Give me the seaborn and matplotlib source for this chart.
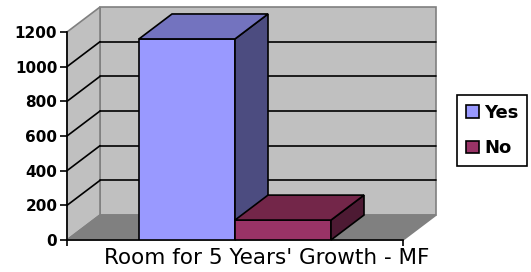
import pandas as pd
import matplotlib.pyplot as plt
import seaborn as sns
from matplotlib.patches import Polygon, Patch

# Chart data
categories = ["Room for 5 Years' Growth - MF"]
series = ["Yes", "No"]
values = [1160, 115]
yticks = [0, 200, 400, 600, 800, 1000, 1200]

front_colors = ["#9999FF", "#993366"]
top_colors = ["#7373BF", "#732649"]
side_colors = ["#4C4C80", "#4D1A33"]

df = pd.DataFrame({"category": categories * len(series), "series": series, "value": values})

sns.set_style("white")
plt.rcParams["font.family"] = ["DejaVu Sans"]
plt.rcParams["text.color"] = "black"
plt.rcParams["xtick.color"] = "black"
plt.rcParams["ytick.color"] = "black"

fig = plt.figure(figsize=(5.31, 2.72), dpi=100)
ax = fig.add_axes([67 / 531, 32 / 272, 336 / 531, 208 / 272])
ax.patch.set_visible(False)

sns.barplot(data=df, x="category", y="value", hue="series", palette=front_colors,
            saturation=1, edgecolor="black", linewidth=1.2, legend=False, ax=ax)

x0, x1 = -0.7, 0.7
ytop = yticks[-1]
dx, dy = 0.1375, 144  # 3D depth offset in data units
ax.set_xlim(x0, x1)
ax.set_ylim(0, ytop)

# walls and floor
wall_kw = dict(clip_on=False, zorder=0.1, lw=1.2)
ax.add_patch(Polygon([(x0 + dx, dy), (x1 + dx, dy), (x1 + dx, ytop + dy), (x0 + dx, ytop + dy)],
                     fc="#C0C0C0", ec="#808080", **wall_kw))
ax.add_patch(Polygon([(x0, 0), (x0 + dx, dy), (x0 + dx, ytop + dy), (x0, ytop)],
                     fc="#C0C0C0", ec="#808080", **wall_kw))
ax.add_patch(Polygon([(x0, 0), (x1, 0), (x1 + dx, dy), (x0 + dx, dy)],
                     fc="#808080", ec="#808080", **wall_kw))

# gridlines on the side and back walls
for t in yticks[1:-1]:
    ax.plot([x0, x0 + dx], [t, t + dy], color="black", lw=1.2, clip_on=False, zorder=0.3)
    ax.plot([x0 + dx, x1 + dx], [t + dy, t + dy], color="black", lw=1.2, clip_on=False, zorder=0.3)

# 3D sides and tops of the bars
for i, cont in enumerate(ax.containers):
    for bar in cont:
        x, w, h = bar.get_x(), bar.get_width(), bar.get_height()
        xr = x + w
        z = 3 + i
        bar.set_zorder(z)
        ax.add_patch(Polygon([(xr, 0), (xr + dx, dy), (xr + dx, h + dy), (xr, h)],
                             fc=side_colors[i], ec="black", lw=1.2, clip_on=False, zorder=z + 0.1))
        ax.add_patch(Polygon([(x, h), (xr, h), (xr + dx, h + dy), (x + dx, h + dy)],
                             fc=top_colors[i], ec="black", lw=1.2, clip_on=False, zorder=z + 0.1))

# axes styling
for s in ["top", "right"]:
    ax.spines[s].set_visible(False)
for s in ["left", "bottom"]:
    ax.spines[s].set_color("black")
    ax.spines[s].set_linewidth(1.2)
    ax.spines[s].set_zorder(2.5)

ax.set_yticks(yticks)
ax.set_yticklabels([str(t) for t in yticks], fontweight="bold", fontsize=11)
ax.tick_params(axis="y", direction="out", length=5, width=1.2, color="black", pad=2, left=True)
ax.set_xticks([dx * 0.95])
ax.set_xticklabels(categories, fontsize=15.5)
ax.set_xticks([x0, x1], minor=True)
ax.tick_params(axis="x", which="major", length=0, pad=6)
ax.tick_params(axis="x", which="minor", direction="out", length=4, width=1.2, color="black", bottom=True)
ax.set_xlabel("")
ax.set_ylabel("")

handles = [Patch(fc=c, ec="black", lw=1.2) for c in front_colors]
leg = fig.legend(handles=handles, labels=series, loc="upper left",
                 bbox_to_anchor=(457 / 531, 1 - 95 / 272), frameon=True, fancybox=False,
                 edgecolor="black", framealpha=1, prop={"weight": "bold", "size": 13},
                 handlelength=0.7, handleheight=0.7, handletextpad=0.3,
                 borderpad=0.5, labelspacing=0.95, borderaxespad=0)
leg.get_frame().set_linewidth(1.2)

fig.savefig("out.png", dpi=100, facecolor="white")
